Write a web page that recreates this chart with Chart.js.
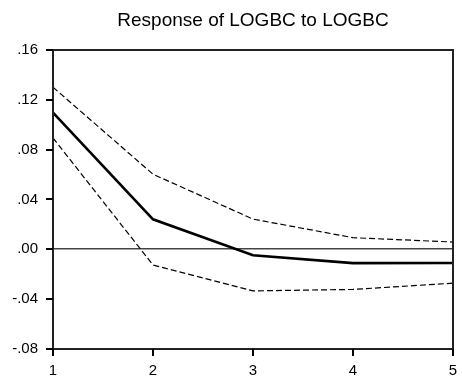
<!DOCTYPE html>
<html>
<head>
<meta charset="utf-8">
<script src="https://cdn.jsdelivr.net/npm/chart.js@4/dist/chart.umd.min.js"></script>
<style>
html,body{margin:0;padding:0;background:#fff;}
#wrap{width:462px;height:377px;}
</style>
</head>
<body>
<div id="wrap"><canvas id="c" width="462" height="377"></canvas></div>
<script>
const periods = [1, 2, 3, 4, 5];
const responseMean = [0.1096, 0.0240, -0.0048, -0.0111, -0.0110];
const upperBand = [0.1300, 0.0602, 0.0242, 0.0093, 0.0058];
const lowerBand = [0.0893, -0.0126, -0.0334, -0.0322, -0.0272];
const yTickValues = [-0.08, -0.04, 0.00, 0.04, 0.08, 0.12, 0.16];
const titleText = 'Response of LOGBC to LOGBC';

const FONT = '"Liberation Sans", Arial, sans-serif';
const TICK_LEN = 7;
const toPts = arr => periods.map((p, i) => ({x: p, y: arr[i]}));
const isZero = ctx => ctx.tick && Math.abs(ctx.tick.value) < 1e-9;

const frame = {
  id: 'frame',
  afterDraw(chart) {
    const a = chart.chartArea, c = chart.ctx;
    c.save();
    c.strokeStyle = '#222';
    c.lineWidth = 2;
    c.strokeRect(Math.round(a.left), Math.round(a.top), Math.round(a.right - a.left), Math.round(a.bottom - a.top));
    // outward tick marks placed through the library's scales
    c.strokeStyle = '#000';
    c.lineWidth = 2;
    const ys = chart.scales.y, xs = chart.scales.x;
    c.beginPath();
    ys.ticks.forEach(t => {
      const py = Math.round(ys.getPixelForValue(t.value));
      c.moveTo(Math.round(a.left) - TICK_LEN, py); c.lineTo(Math.round(a.left), py);
    });
    xs.ticks.forEach(t => {
      const px = Math.round(xs.getPixelForValue(t.value));
      c.moveTo(px, Math.round(a.bottom)); c.lineTo(px, Math.round(a.bottom) + TICK_LEN);
    });
    c.stroke();
    c.restore();
  }
};

new Chart(document.getElementById('c'), {
  type: 'line',
  data: {
    datasets: [
      {data: toPts(upperBand), borderColor: '#000', borderWidth: 1.2, borderDash: [6, 3], pointRadius: 0, fill: false, tension: 0},
      {data: toPts(lowerBand), borderColor: '#000', borderWidth: 1.2, borderDash: [6, 3], pointRadius: 0, fill: false, tension: 0},
      {data: toPts(responseMean), borderColor: '#000', borderWidth: 2.6, pointRadius: 0, fill: false, tension: 0}
    ]
  },
  options: {
    responsive: false,
    animation: false,
    devicePixelRatio: 1,
    layout: {padding: {left: 0, right: 9, top: 0, bottom: 0}},
    plugins: {
      legend: {display: false},
      tooltip: {enabled: false},
      title: {
        display: true,
        text: titleText,
        fullSize: false,
        color: '#000',
        font: {family: FONT, size: 19, weight: 'normal', lineHeight: 1.2},
        padding: {top: 9, bottom: 18}
      }
    },
    scales: {
      x: {
        type: 'linear',
        min: 1, max: 5,
        afterFit(s) { s.height = 28; },
        afterBuildTicks(s) { s.ticks = periods.map(v => ({value: v})); },
        ticks: {color: '#000', font: {family: FONT, size: 15}, padding: 1, maxRotation: 0,
                callback: v => String(v)},
        grid: {drawOnChartArea: false, drawTicks: true, tickLength: 12, tickColor: 'rgba(0,0,0,0)'},
        border: {display: true, color: '#222', width: 2}
      },
      y: {
        min: -0.08, max: 0.16,
        afterFit(s) { s.width = 53; },
        afterBuildTicks(s) { s.ticks = yTickValues.map(v => ({value: v})); },
        ticks: {color: '#000', font: {family: FONT, size: 15}, padding: 8,
                callback: v => (Math.abs(v) < 1e-9 ? 0 : v).toFixed(2).replace('0.', '.')},
        grid: {
          drawOnChartArea: true,
          drawTicks: true,
          color: ctx => isZero(ctx) ? '#444' : 'rgba(0,0,0,0)',
          lineWidth: 1.6,
          tickLength: TICK_LEN, tickColor: 'rgba(0,0,0,0)'
        },
        border: {display: true, color: '#222', width: 2}
      }
    }
  },
  plugins: [frame]
});
</script>
</body>
</html>
